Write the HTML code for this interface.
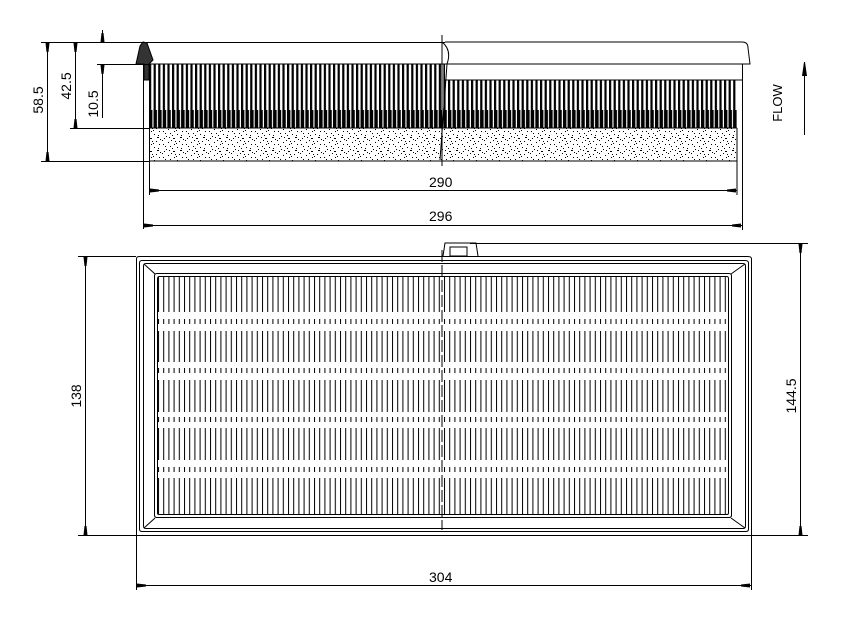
<!DOCTYPE html>
<html><head><meta charset="utf-8"><style>
html,body{margin:0;padding:0;background:#fff;}
svg{display:block;}
text{font-family:"Liberation Sans",sans-serif;font-size:14px;fill:#000;}
</style></head><body>
<svg width="851" height="622" viewBox="0 0 851 622" xmlns="http://www.w3.org/2000/svg">
<defs>
<pattern id="pl" x="149" y="0" width="4.6" height="10" patternUnits="userSpaceOnUse">
<rect x="0" y="0" width="2.2" height="10" fill="#000"/>
</pattern>
<pattern id="pl2" x="149" y="0" width="4.6" height="10" patternUnits="userSpaceOnUse">
<rect x="0" y="0" width="3.4" height="10" fill="#000"/>
</pattern>
<pattern id="sp" x="0" y="0" width="23" height="13" patternUnits="userSpaceOnUse">
<rect x="2" y="1" width="1" height="1" fill="#000"/><rect x="9" y="3" width="1" height="1" fill="#000"/>
<rect x="15" y="0" width="1" height="1" fill="#000"/><rect x="20" y="5" width="1" height="1" fill="#000"/>
<rect x="5" y="6" width="1" height="1" fill="#000"/><rect x="12" y="8" width="2" height="1" fill="#000"/>
<rect x="1" y="10" width="1" height="1" fill="#000"/><rect x="18" y="11" width="1" height="1" fill="#000"/>
<rect x="7" y="12" width="1" height="1" fill="#000"/><rect x="16" y="4" width="1" height="1" fill="#000"/>
<rect x="22" y="9" width="1" height="1" fill="#000"/><rect x="10" y="10" width="1" height="1" fill="#000"/>
<rect x="4" y="3" width="1" height="1" fill="#000"/><rect x="13" y="1" width="1" height="1" fill="#000"/>
<rect x="19" y="7" width="2" height="1" fill="#000"/><rect x="8" y="7" width="1" height="1" fill="#000"/>
<rect x="14" y="11" width="1" height="1" fill="#000"/><rect x="3" y="8" width="1" height="1" fill="#000"/>
<rect x="11" y="5" width="1" height="1" fill="#000"/><rect x="21" y="1" width="1" height="1" fill="#000"/>
</pattern>
<pattern id="tv" x="158" y="0" width="5.2" height="10" patternUnits="userSpaceOnUse">
<rect x="0" y="0" width="1" height="10" fill="#000"/>
</pattern>
</defs>
<g stroke="#000" stroke-width="1" fill="none">
<rect x="149" y="64" width="296" height="64" fill="url(#pl)" stroke="none"/>
<rect x="149" y="110" width="296" height="18" fill="url(#pl2)" stroke="none"/>
<rect x="445" y="80" width="292" height="48" fill="url(#pl)" stroke="none"/>
<rect x="445" y="110" width="292" height="18" fill="url(#pl2)" stroke="none"/>
<line x1="149" y1="64" x2="445" y2="64"/>
<line x1="445" y1="80" x2="742" y2="80"/>
<rect x="149" y="128" width="588" height="33" fill="url(#sp)" stroke="none"/>
<line x1="149" y1="128" x2="737" y2="128"/>
<line x1="149" y1="161" x2="737" y2="161"/>
<line x1="737" y1="128" x2="737" y2="195"/>
<path d="M136 64 L140 46 L143 42 L147 43 L153 60 L149 64 L149 80 L144 80 L144 64 Z" fill="#333"/>
<line x1="143.5" y1="64" x2="143.5" y2="229"/>
<line x1="149.5" y1="128" x2="149.5" y2="195"/>
<path d="M445 42 L742 42 Q748 42 748 48 L750 64 L445 64"/>
<line x1="742.5" y1="64" x2="742.5" y2="230"/>
<line x1="442" y1="35" x2="442" y2="166"/>
<path d="M442 42 Q452 50 447 64 L440 160"/>
<line x1="41" y1="42.5" x2="445" y2="42.5"/>
<line x1="97" y1="64.5" x2="149" y2="64.5"/>
<line x1="70" y1="128.5" x2="149" y2="128.5"/>
<line x1="41" y1="161.5" x2="149" y2="161.5"/>
<line x1="47.5" y1="42" x2="47.5" y2="161"/>
<line x1="75.5" y1="42" x2="75.5" y2="128"/>
<line x1="102.5" y1="30" x2="102.5" y2="42"/>
<line x1="102.5" y1="64" x2="102.5" y2="118"/>
<line x1="149" y1="190.5" x2="737" y2="190.5"/>
<line x1="143" y1="225.5" x2="742" y2="225.5"/>
<line x1="804.5" y1="62" x2="804.5" y2="135"/>
<rect x="158" y="277" width="570" height="35" fill="url(#tv)" stroke="none"/>
<rect x="158" y="331" width="570" height="31" fill="url(#tv)" stroke="none"/>
<rect x="158" y="380" width="570" height="32" fill="url(#tv)" stroke="none"/>
<rect x="158" y="428" width="570" height="32" fill="url(#tv)" stroke="none"/>
<rect x="158" y="478" width="570" height="36" fill="url(#tv)" stroke="none"/>
<rect x="158" y="319" width="570" height="5" fill="url(#tv)" stroke="none"/>
<rect x="158" y="368" width="570" height="5" fill="url(#tv)" stroke="none"/>
<rect x="158" y="417" width="570" height="5" fill="url(#tv)" stroke="none"/>
<rect x="158" y="467" width="570" height="5" fill="url(#tv)" stroke="none"/>
<path d="M136.5 259 Q136.5 256.5 139 256.5 L748 256.5 Q751.5 256.5 751.5 259 L751.5 535.5 L136.5 535.5 Z"/>
<path d="M139.5 263 Q139.5 260.5 142 260.5 L745 260.5 Q748.5 260.5 748.5 263 L748.5 529 Q748.5 531.5 746 531.5 L142 531.5 Q139.5 531.5 139.5 529 Z"/>
<path d="M143.5 266 Q143.5 263.5 146 263.5 L743 263.5 Q745.5 263.5 745.5 266 L745.5 526 Q745.5 528.5 743 528.5 L146 528.5 Q143.5 528.5 143.5 526 Z"/>
<path d="M154.5 276 L154.5 515 Q154.5 517.5 157 517.5 L729 517.5 Q731.5 517.5 731.5 515 L731.5 276 Q731.5 273.5 729 273.5 L157 273.5 Q154.5 273.5 154.5 276 Z"/>
<path d="M157.5 279 L157.5 513 Q157.5 514.5 159 514.5 L727 514.5 Q728.5 514.5 728.5 513 L728.5 279 Q728.5 276.5 727 276.5 L159 276.5 Q157.5 276.5 157.5 279 Z"/>
<line x1="144" y1="264" x2="155" y2="274"/><line x1="745" y1="264" x2="731" y2="274"/>
<line x1="144" y1="528" x2="155" y2="518"/><line x1="745" y1="528" x2="731" y2="518"/>
<path d="M443 256 L445 243 L476 243 L478 256"/>
<rect x="450" y="247" width="17" height="9"/>
<line x1="442" y1="250" x2="442" y2="530" stroke-dasharray="12 3"/>
<line x1="78" y1="256.5" x2="136" y2="256.5"/>
<line x1="78" y1="535.5" x2="136" y2="535.5"/>
<line x1="85.5" y1="256" x2="85.5" y2="535"/>
<line x1="470" y1="243.5" x2="808" y2="243.5"/>
<line x1="751" y1="535.5" x2="808" y2="535.5"/>
<line x1="800.5" y1="243" x2="800.5" y2="535"/>
<line x1="136.5" y1="535" x2="136.5" y2="590"/>
<line x1="751.5" y1="535" x2="751.5" y2="590"/>
<line x1="136" y1="585.5" x2="751" y2="585.5"/>
</g>
<g fill="#000">
<path d="M45.5 43 L49.5 43 L48.5 52 L46.5 52 Z"/><path d="M45.5 161 L49.5 161 L48.5 152 L46.5 152 Z"/>
<path d="M73.5 43 L77.5 43 L76.5 52 L74.5 52 Z"/><path d="M73.5 128 L77.5 128 L76.5 119 L74.5 119 Z"/>
<path d="M100.5 42 L104.5 42 L103.5 33 L101.5 33 Z"/><path d="M100.5 65 L104.5 65 L103.5 74 L101.5 74 Z"/>
<path d="M150 188.5 L150 192.5 L159 191.5 L159 189.5 Z"/><path d="M736 188.5 L736 192.5 L727 191.5 L727 189.5 Z"/>
<path d="M144 223.5 L144 227.5 L153 226.5 L153 224.5 Z"/><path d="M741 223.5 L741 227.5 L732 226.5 L732 224.5 Z"/>
<path d="M802 62 L807 62 L805 76 L804 76 Z" transform="rotate(180 804.5 69)"/>
<path d="M83.5 257 L87.5 257 L86.5 266 L84.5 266 Z"/><path d="M83.5 535 L87.5 535 L86.5 526 L84.5 526 Z"/>
<path d="M798.5 244 L802.5 244 L801.5 253 L799.5 253 Z"/><path d="M798.5 535 L802.5 535 L801.5 526 L799.5 526 Z"/>
<path d="M137 583.5 L137 587.5 L146 586.5 L146 584.5 Z"/><path d="M750 583.5 L750 587.5 L741 586.5 L741 584.5 Z"/>
</g>
<text x="429" y="187">290</text>
<text x="429" y="221">296</text>
<text x="429" y="582">304</text>
<text transform="translate(43 100) rotate(-90)" text-anchor="middle">58.5</text>
<text transform="translate(71 86) rotate(-90)" text-anchor="middle">42.5</text>
<text transform="translate(98 104) rotate(-90)" text-anchor="middle">10.5</text>
<text transform="translate(81 396) rotate(-90)" text-anchor="middle">138</text>
<text transform="translate(796 396) rotate(-90)" text-anchor="middle">144.5</text>
<text transform="translate(782 103) rotate(-90)" text-anchor="middle" style="font-size:13px">FLOW</text>
</svg>
</body></html>
